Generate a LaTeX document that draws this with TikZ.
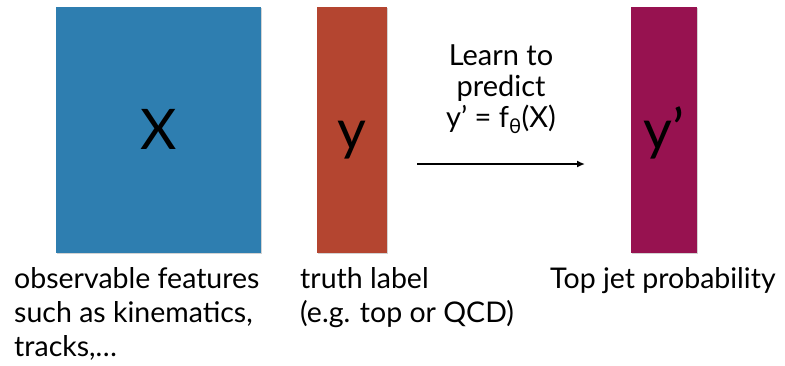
\documentclass[tikz,border=0pt]{standalone}
\usepackage{fontspec}
\setmainfont{Lato}
\definecolor{featblue}{RGB}{46,126,176}
\definecolor{truthred}{RGB}{180,69,48}
\definecolor{predmag}{RGB}{151,18,80}
\usetikzlibrary{arrows.meta,positioning,shadows}

\tikzset{
  databox/.style={draw=none, inner sep=0pt, minimum height=246, drop shadow={shadow xshift=1pt, shadow yshift=-1pt, opacity=0.35}},
  bigsym/.style={inner sep=0pt, anchor=base, font=\fontsize{56}{56}\selectfont},
  caption/.style={inner sep=0pt, anchor=base west, align=left, font=\fontsize{28.5}{34}\selectfont},
}

\begin{document}
\begin{tikzpicture}[x=1pt, y=-1pt]
    \useasboundingbox (0,0) rectangle (785,365);
    % the three columns
    \node[databox, fill=featblue, minimum width=205] (xbox) at (158.5,130) {};
    \node[databox, fill=truthred, minimum width=70] (ybox) at (352,130) {};
    \node[databox, fill=predmag, minimum width=66] (ypbox) at (664,130) {};
    \node[bigsym] (xsym) at (158.5,149) {X};
    \node[bigsym] (ysym) at (352,149) {y};
    \node[bigsym] (ypsym) at (664,149) {y’};
    % learning step
    \coordinate (arrstart) at (417,164);
    \coordinate (arrend) at (585,164);
    \draw[-{Latex[length=8pt,width=7pt]}, line width=1.9pt] (arrstart) -- (arrend);
    \node[inner sep=0pt, anchor=base, align=center, font=\fontsize{29}{31}\selectfont] (learn) at (501,127)
        {Learn to\\predict\\y’ = f\textsubscript{θ}(X)};
    % captions (anchored at the last line)
    \node[caption] (featcap) at (14,356) {observable features\\such as kinematics,\\tracks,…};
    \node[caption] (truthcap) at (300,322) {truth label\\(e.g. top or QCD)};
    \node[caption] (probcap) at (550,288) {Top jet probability};
\end{tikzpicture}
\end{document}
